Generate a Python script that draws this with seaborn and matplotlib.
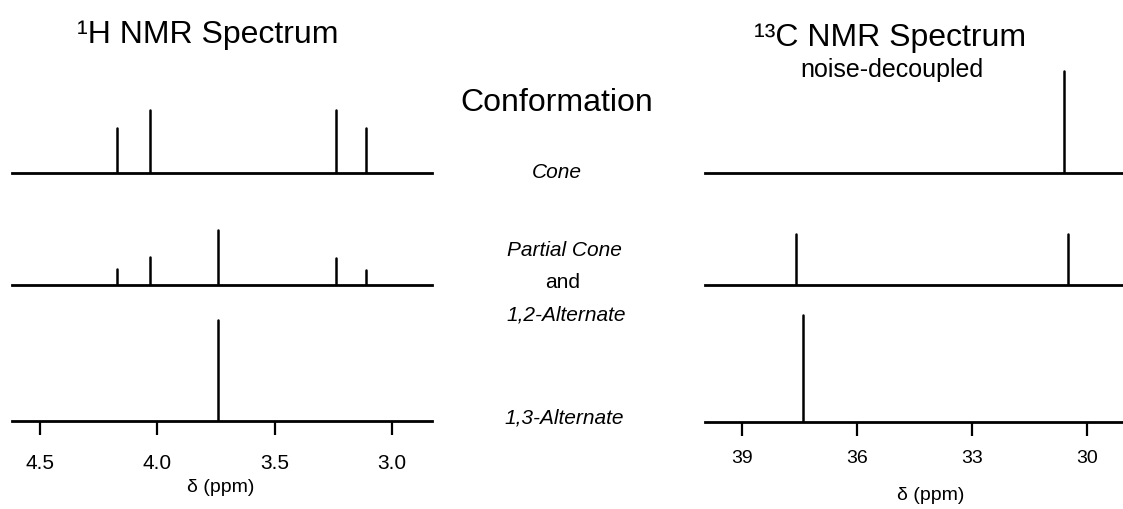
import numpy as np
import pandas as pd
import matplotlib
matplotlib.use("Agg")
import matplotlib.pyplot as plt
import seaborn as sns

sns.set_style("white")
plt.rcParams['font.family'] = ['Liberation Sans', 'DejaVu Sans']
plt.rcParams['text.color'] = 'black'
plt.rcParams['axes.labelcolor'] = 'black'
plt.rcParams['xtick.color'] = 'black'

# ---- data ----
conformations = ["Cone", "Partial Cone", "and", "1,2-Alternate", "1,3-Alternate"]

h_ppm_cone = [4.17, 4.03, 3.24, 3.11]
h_int_cone = [45, 63, 63, 45]
h_ppm_partial = [4.17, 4.03, 3.74, 3.24, 3.11]
h_int_partial = [16, 28, 55, 27, 15]
h_ppm_alt13 = [3.74]
h_int_alt13 = [101]

c_ppm_cone = [30.6]
c_int_cone = [102]
c_ppm_partial = [37.6, 30.5]
c_int_partial = [51, 51]
c_ppm_alt13 = [37.4]
c_int_alt13 = [107]

h_ticks = [4.5, 4.0, 3.5, 3.0]
h_tick_labels = ["4.5", "4.0", "3.5", "3.0"]
c_ticks = [39, 36, 33, 30]
c_tick_labels = ["39", "36", "33", "30"]

W, H = 1123, 509
fig = plt.figure(figsize=(W / 100, H / 100), dpi=100)


def sticks(ppm, inten):
    rows = []
    for i, (p, h) in enumerate(zip(ppm, inten)):
        rows.append(dict(peak=i, ppm=p, intensity=0.0))
        rows.append(dict(peak=i, ppm=p, intensity=float(h)))
    return pd.DataFrame(rows)


def make_ax(x0, x1, baseline, xlim, ppm, inten, ticks=None, labels=None,
            pad=14, labelsize=15):
    ax = fig.add_axes([x0 / W, (H - baseline) / H, (x1 - x0) / W, 110 / H])
    ax.set_facecolor("none")
    df = sticks(ppm, inten)
    sns.lineplot(data=df, x="ppm", y="intensity", units="peak", estimator=None,
                 sort=False, color="black", lw=1.8, ax=ax, legend=False)
    ax.set_xlim(*xlim)
    ax.set_ylim(0, 110)
    ax.set_yticks([])
    ax.set_xlabel("")
    ax.set_ylabel("")
    sns.despine(ax=ax, left=True)
    ax.spines["bottom"].set_linewidth(2.0)
    ax.spines["bottom"].set_color("black")
    if ticks is None:
        ax.set_xticks([])
    else:
        ax.set_xticks(ticks, labels=labels)
        ax.tick_params(axis="x", bottom=True, direction="out", length=10,
                       width=1.6, pad=pad, labelsize=labelsize, color="black",
                       labelcolor="black")
    return ax


hx = (12, 432)
hlim = (4.619, 2.830)
cx = (705, 1123)
clim = (39.965, 29.06)

make_ax(*hx, 173, hlim, h_ppm_cone, h_int_cone)
make_ax(*hx, 285, hlim, h_ppm_partial, h_int_partial)
axh = make_ax(*hx, 421, hlim, h_ppm_alt13, h_int_alt13, h_ticks, h_tick_labels,
              pad=14, labelsize=15)

make_ax(*cx, 173, clim, c_ppm_cone, c_int_cone)
make_ax(*cx, 285, clim, c_ppm_partial, c_int_partial)
axc = make_ax(*cx, 422, clim, c_ppm_alt13, c_int_alt13, c_ticks, c_tick_labels,
              pad=10, labelsize=14)

axh.set_xlabel("δ (ppm)", fontsize=14)
axh.xaxis.label.set_va("center")
axh.xaxis.set_label_coords(0.497, (421 - 488) / 110)
axc.set_xlabel("δ (ppm)", fontsize=14)
axc.xaxis.label.set_va("center")
axc.xaxis.set_label_coords((931 - 705) / 418, (422 - 495) / 110)


def ftext(x, y, s, **kw):
    fig.text(x / W, 1 - y / H, s, ha="center", va="center", color="black", **kw)


ftext(208, 35, "¹H NMR Spectrum", fontsize=23)
ftext(890, 38, "¹³C NMR Spectrum", fontsize=23)
ftext(892, 70, "noise-decoupled", fontsize=18)
ftext(557, 103, "Conformation", fontsize=23)
ftext(557, 172, conformations[0], fontsize=15, style="italic")
ftext(564, 251, conformations[1], fontsize=15, style="italic")
ftext(563, 283, conformations[2], fontsize=15)
ftext(566, 315, conformations[3], fontsize=15, style="italic")
ftext(564, 418, conformations[4], fontsize=15, style="italic")

fig.savefig("out.png", dpi=100, facecolor="white")
